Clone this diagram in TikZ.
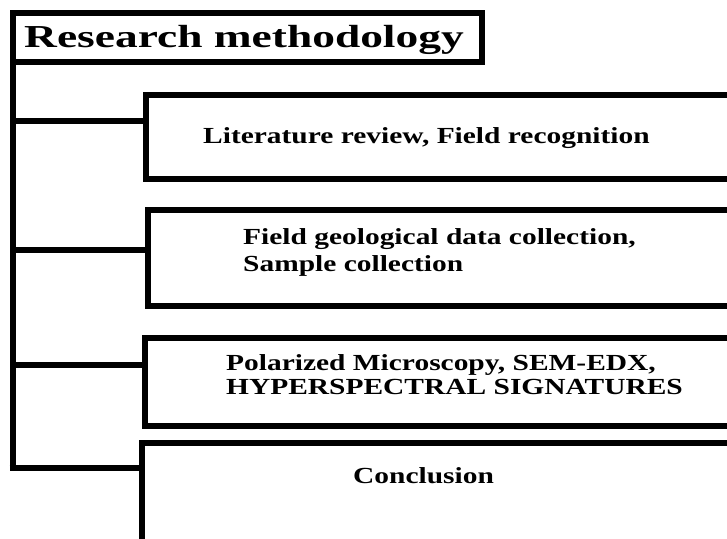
\documentclass[tikz,border=0pt]{standalone}
\usepackage{fontspec}
% Wide bold serif faces: one for the heading, one for the step texts
\newfontfamily\headfont{Liberation Serif}[FakeStretch=1.42]
\newfontfamily\stepfont{Liberation Serif}[FakeStretch=1.28]
\begin{document}
\begin{tikzpicture}[x=1pt,y=-1pt,
  frame/.style={draw=black,line width=6pt,fill=white,inner sep=0pt,
    outer sep=0pt,anchor=north west,rectangle},
  link/.style={draw=black,line width=5.5pt},
  headtext/.style={anchor=base west,inner sep=0pt,
    font=\headfont\bfseries\fontsize{32}{36}\selectfont},
  steptext/.style={anchor=base west,inner sep=0pt,align=left,
    font=\stepfont\bfseries\fontsize{23}{27}\selectfont}]
  \useasboundingbox (0,0) rectangle (727,538);
  \clip (0,0) rectangle (727,538);
  \fill[white] (0,0) rectangle (727,538);

  % heading box
  \node[frame,minimum width=469pt,minimum height=49pt] (head) at (12.5,13) {};
  \node[headtext] (headlbl) at (24,47) {Research methodology};

  % step boxes; they run on past the right (and lower) edge
  \node[frame,minimum width=640pt,minimum height=84pt] (b1) at (146,95) {};
  \node[frame,minimum width=640pt,minimum height=96pt] (b2) at (147.5,210) {};
  \node[frame,minimum width=640pt,minimum height=88pt] (b3) at (145,338) {};
  \node[frame,minimum width=640pt,minimum height=140pt] (b4) at (142,443) {};

  % trunk and branches
  \coordinate (j1) at (12.5,121);
  \coordinate (j2) at (12.5,250);
  \coordinate (j3) at (12.5,365);
  \coordinate (j4) at (12.5,468);
  \coordinate (j4a) at (9.5,468);
  \draw[link,line width=6pt] (head.south west) -- (j4);
  \draw[link] (j1) -- (j1 -| b1.west);
  \draw[link] (j2) -- (j2 -| b2.west);
  \draw[link] (j3) -- (j3 -| b3.west);
  \draw[link] (j4a) -- (j4 -| b4.west);

  % step texts (multi-line nodes sit on the baseline of their last line)
  \node[steptext] (t1) at (203,143) {Literature review, Field recognition};
  \node[steptext] (t2) at (243,271)
    {Field geological data collection,\\Sample collection};
  \node[steptext,font=\stepfont\bfseries\fontsize{23}{24}\selectfont] (t3) at (226,394)
    {Polarized Microscopy, SEM-EDX,\\HYPERSPECTRAL SIGNATURES};
  \node[steptext] (t4) at (353,483) {Conclusion};
\end{tikzpicture}
\end{document}
